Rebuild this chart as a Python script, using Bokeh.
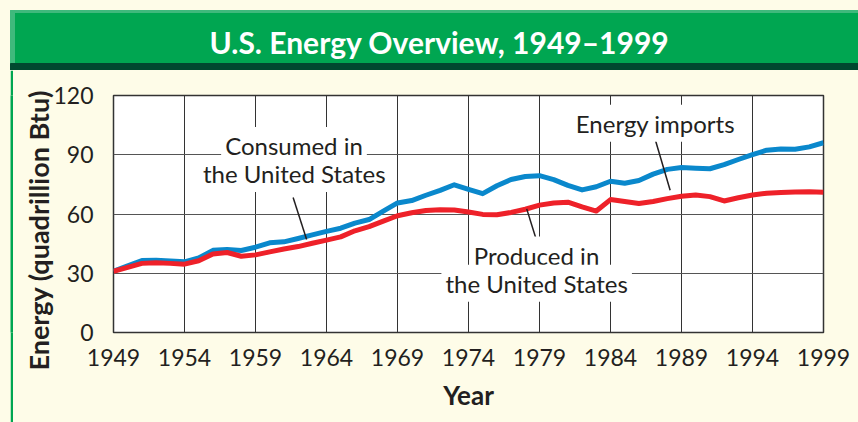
from bokeh.plotting import figure
from bokeh.models import Range1d, Label, FixedTicker, Title, Spacer
from bokeh.layouts import column, row
from bokeh.embed import file_html
from bokeh.resources import INLINE
from bokeh.core.properties import value

# ---------------- data ----------------
years = list(range(1949, 2000))
consumed = [31.0, 33.8, 36.4, 36.6, 36.2, 35.8, 37.8, 41.6, 42.0, 41.5,
            43.2, 45.4, 45.9, 47.6, 49.4, 51.2, 52.8, 55.4, 57.2, 61.5,
            65.6, 66.8, 69.5, 72.0, 74.8, 72.5, 70.3, 74.3, 77.5, 79.0,
            79.4, 77.4, 74.5, 72.2, 73.8, 76.6, 75.6, 77.0, 80.2, 82.6,
            83.5, 83.2, 82.9, 85.0, 87.6, 90.1, 92.3, 92.9, 92.8, 94.0, 96.1]
produced = [31.0, 33.0, 35.0, 35.3, 35.0, 34.6, 36.3, 39.8, 40.5, 38.6,
            39.3, 40.8, 42.3, 43.5, 45.2, 46.8, 48.4, 51.5, 53.6, 56.4,
            59.1, 60.6, 61.8, 62.1, 62.0, 61.0, 59.8, 59.6, 60.8, 62.4,
            64.5, 65.6, 66.0, 63.6, 61.5, 67.3, 66.3, 65.3, 66.3, 67.8,
            69.0, 69.6, 68.8, 66.6, 68.2, 69.6, 70.5, 70.9, 71.2, 71.3, 71.0]
x_ticks = [1949, 1954, 1959, 1964, 1969, 1974, 1979, 1984, 1989, 1994, 1999]
y_ticks = [0, 30, 60, 90, 120]

TITLE = "U.S. Energy Overview, 1949\u20131999"
Y_LABEL = "Energy (quadrillion Btu)"
X_LABEL = "Year"

CREAM = "#fefce8"
GREEN = "#00a651"
LIGHT_GREEN = "#3fb97c"
DARK_GREEN = "#00482f"
BLUE = "#0a88cc"
RED = "#ee2129"
INK = "#231f20"
FONT = "Lato"

W, H = 858, 422
HEAD_H = 70
PAD_W = 10
STRIP_W = 3

# ---------------- header ----------------
header = figure(width=W, height=HEAD_H, x_range=Range1d(0, W), y_range=Range1d(HEAD_H, 0),
                output_backend="svg", toolbar_location=None, min_border=0)
header.axis.visible = False
header.grid.visible = False
header.outline_line_color = None
header.background_fill_color = CREAM
header.border_fill_color = CREAM
header.quad(left=10, right=W, top=10, bottom=13, color=LIGHT_GREEN)
header.quad(left=10, right=W, top=13, bottom=63, color=GREEN)
header.quad(left=10, right=14, top=10, bottom=63, color=LIGHT_GREEN)
header.quad(left=10, right=W, top=63, bottom=70, color=DARK_GREEN)
header.text(x=[439], y=[41], text=[TITLE], text_align="center", text_baseline="alphabetic",
            text_color="white", text_font=value(FONT),
            text_font_style="bold", text_font_size="30px")

# ---------------- left green rule ----------------
strip = figure(width=STRIP_W, height=H - HEAD_H, x_range=Range1d(0, 1), y_range=Range1d(0, 1),
               output_backend="svg", toolbar_location=None, min_border=0)
strip.axis.visible = False
strip.grid.visible = False
strip.outline_line_color = None
strip.background_fill_color = GREEN
strip.border_fill_color = GREEN

# ---------------- main chart ----------------
MAIN_W = W - PAD_W - STRIP_W
p = figure(width=MAIN_W, height=H - HEAD_H, x_range=Range1d(1949, 1999), y_range=Range1d(0, 120),
           output_backend="svg", toolbar_location=None,
           min_border_left=100, min_border_right=35, min_border_top=25, min_border_bottom=90)
p.background_fill_color = "white"
p.border_fill_color = CREAM
p.outline_line_color = "#333333"
p.outline_line_width = 1.5

p.xaxis.ticker = FixedTicker(ticks=x_ticks)
p.yaxis.ticker = FixedTicker(ticks=y_ticks)
for ax in (p.xaxis, p.yaxis):
    ax.axis_line_color = None
    ax.major_tick_line_color = None
    ax.minor_tick_line_color = None
    ax.major_label_text_font = FONT
    ax.major_label_text_font_size = "23px"
    ax.major_label_text_color = INK
    ax.axis_label_text_font = FONT
    ax.axis_label_text_font_style = "bold"
    ax.axis_label_text_font_size = "26px"
    ax.axis_label_text_color = INK
p.xaxis.axis_label = X_LABEL
p.xaxis.major_label_standoff = 10
p.yaxis.major_label_standoff = 14
p.xaxis.axis_label_standoff = 10

# y-axis title as a side title (rotated automatically on the left)
p.add_layout(Title(text=Y_LABEL, align="left", offset=-38, standoff=-8,
                   text_font=FONT, text_font_style="bold", text_font_size="27px",
                   text_color=INK), "left")

p.xgrid.grid_line_color = "#333333"
p.ygrid.grid_line_color = "#555555"
p.xgrid.grid_line_width = 1
p.ygrid.grid_line_width = 1

p.line(years, consumed, line_color=BLUE, line_width=5, line_join="round")
p.line(years, produced, line_color=RED, line_width=5, line_join="round")

# leader lines (annotation pointers)
lead_x0 = [1961.65, 1987.17, 1978.1]
lead_y0 = [68.4, 97.2, 62.6]
lead_x1 = [1962.6, 1988.2, 1978.9]
lead_y1 = [47.1, 72.0, 44.1]
p.segment(x0=lead_x0, y0=lead_y0, x1=lead_x1, y1=lead_y1, line_color=INK, line_width=1.5)

labels = [
    ("Consumed in", 1961.71, 94.7),
    ("the United States", 1961.73, 80.5),
    ("Energy imports", 1987.17, 105.9),
    ("Produced in", 1978.79, 39.2),
    ("the United States", 1978.8, 25.0),
]
for txt, lx, ly in labels:
    p.add_layout(Label(x=lx, y=ly, text=txt, text_align="center", text_baseline="alphabetic",
                       text_font=FONT, text_font_size="24px", text_color=INK,
                       background_fill_color="white", padding=4))

layout = column(header, row(Spacer(width=PAD_W, height=H - HEAD_H), strip, p))

html = file_html(layout, INLINE)
html = html.replace("</head>",
                    "<style>body{margin:0;background:%s;overflow:hidden;}</style></head>" % CREAM, 1)
open("out.html", "w").write(html)
